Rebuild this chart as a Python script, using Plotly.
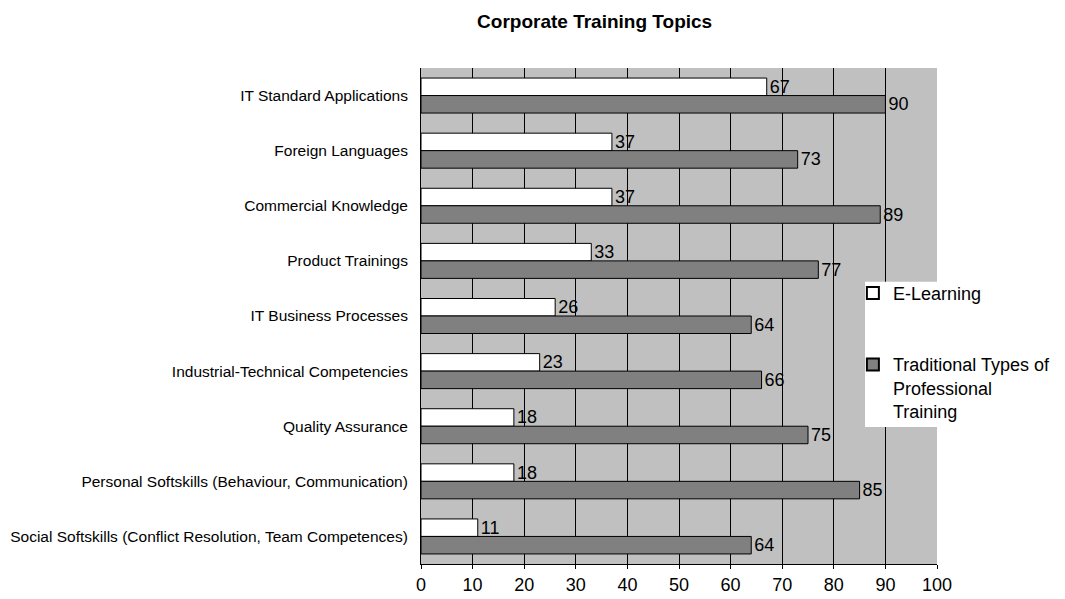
import plotly.graph_objects as go

categories = [
    "IT Standard Applications",
    "Foreign Languages",
    "Commercial Knowledge",
    "Product Trainings",
    "IT Business Processes",
    "Industrial-Technical Competencies",
    "Quality Assurance",
    "Personal Softskills (Behaviour, Communication)",
    "Social Softskills (Conflict Resolution, Team Competences)",
]
elearning = [67, 37, 37, 33, 26, 23, 18, 18, 11]
traditional = [90, 73, 89, 77, 64, 66, 75, 85, 64]
tick_vals = [0, 10, 20, 30, 40, 50, 60, 70, 80, 90, 100]

fig = go.Figure()
fig.add_trace(go.Bar(
    y=categories, x=elearning, orientation="h", name="E-Learning",
    marker=dict(color="#FFFFFF", line=dict(color="#000000", width=1)),
    text=elearning, textposition="outside", cliponaxis=False,
    constraintext="none",
    textfont=dict(size=18, color="#000000", family="Arial"),
    legendgroup="a",
))
fig.add_trace(go.Bar(
    y=categories, x=traditional, orientation="h",
    name="Traditional Types of<br>Professional<br>Training",
    marker=dict(color="#808080", line=dict(color="#000000", width=1)),
    text=traditional, textposition="outside", cliponaxis=False,
    constraintext="none",
    textfont=dict(size=18, color="#000000", family="Arial"),
    legendgroup="b",
))

# white legend box as in the reference
fig.add_shape(type="rect", xref="paper", yref="paper",
              x0=0.8605, x1=1.3, y0=0.276, y1=0.569,
              fillcolor="#FFFFFF", line=dict(width=0), layer="above")

fig.update_layout(
    width=1057, height=591,
    margin=dict(l=413, r=128, t=60, b=35, autoexpand=False),
    paper_bgcolor="#FFFFFF",
    plot_bgcolor="#C0C0C0",
    barmode="group",
    bargap=0.365,
    bargroupgap=0,
    font=dict(family="Arial", color="#000000"),
    title=dict(text="<b>Corporate Training Topics</b>", x=0.555, xref="container",
               xanchor="center", y=0.978, yanchor="middle",
               font=dict(size=19, family="Arial", color="#000000")),
    legend=dict(x=0.837, y=0.583, xanchor="left", yanchor="top",
                bgcolor="rgba(0,0,0,0)", font=dict(size=18, family="Arial"),
                traceorder="grouped", tracegroupgap=45, valign="top",
                itemsizing="constant"),
    xaxis=dict(range=[0, 100], tickvals=tick_vals, showgrid=True,
               gridcolor="#000000", gridwidth=1, showline=True,
               linecolor="#000000", ticks="outside", ticklen=4,
               tickcolor="#000000", tickfont=dict(size=18, family="Arial"),
               zeroline=False, fixedrange=True),
    yaxis=dict(autorange="reversed", showline=True, linecolor="#000000",
               ticks="", tickfont=dict(size=15.5, family="Arial"),
               ticklabelstandoff=9, fixedrange=True),
)

fig.write_html("out.html")
